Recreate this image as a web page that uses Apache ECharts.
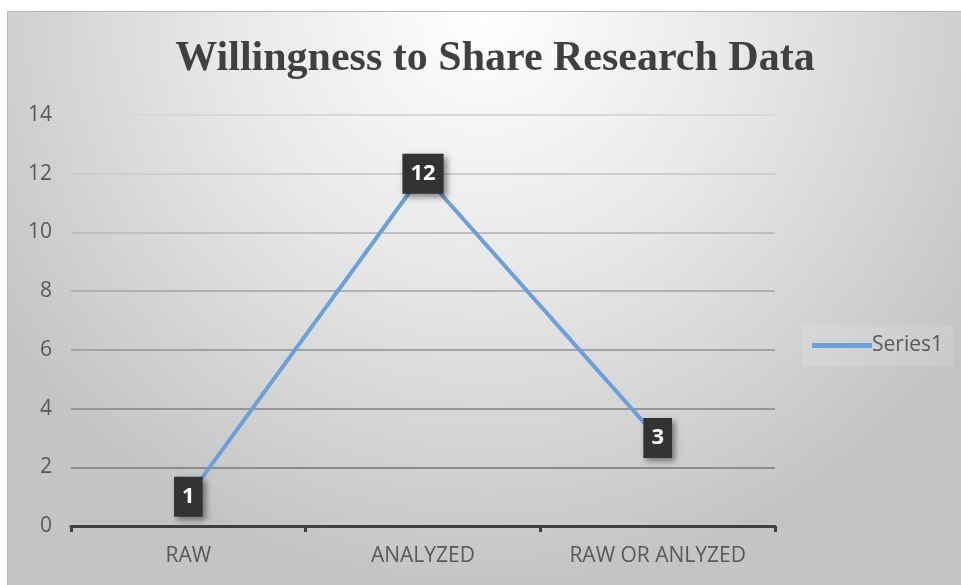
<!DOCTYPE html>
<html>
<head>
<meta charset="utf-8">
<script src="https://cdn.jsdelivr.net/npm/echarts@6/dist/echarts.min.js"></script>
<style>
html,body{margin:0;padding:0;background:#ffffff;}
#chart{width:961px;height:585px;}
</style>
</head>
<body>
<div id="chart"></div>
<script>
var titleText = 'Willingness to Share Research Data';
var categories = ['RAW', 'ANALYZED', 'RAW OR ANLYZED'];
var seriesName = 'Series1';
var seriesValues = [1, 12, 3];
var yTicks = {min: 0, max: 14, interval: 2};

var chart = echarts.init(document.getElementById('chart'), null, {renderer: 'canvas'});
chart.setOption({
  animation: false,
  backgroundColor: '#ffffff',
  graphic: [{
    type: 'rect',
    left: 7, top: 11,
    shape: {width: 954, height: 574},
    z: -10,
    style: {
      fill: {
        type: 'radial', x: 0.5, y: 0.0, r: 1.0,
        colorStops: [
          {offset: 0, color: '#ffffff'},
          {offset: 0.45, color: '#e8e8e8'},
          {offset: 1, color: '#c4c4c4'}
        ]
      },
      stroke: '#b8b8b8', lineWidth: 1
    }
  }],
  title: {
    text: titleText,
    left: 490, top: 33,
    textAlign: 'center',
    textStyle: {
      fontFamily: 'Liberation Serif',
      fontWeight: 'bold',
      fontSize: 42,
      color: '#404040'
    }
  },
  legend: {
    data: [seriesName],
    left: 802, top: 325,
    icon: 'rect',
    itemWidth: 60, itemHeight: 5,
    itemGap: 4,
    textStyle: {fontFamily: 'Open Sans', fontSize: 21, color: '#595959', padding: [0,0,0,-5]},
    backgroundColor: 'rgba(255,255,255,0.12)',
    padding: [10, 10, 10, 10]
  },
  grid: {left: 71, right: 186, top: 115, bottom: 59, containLabel: false},
  xAxis: {
    type: 'category',
    data: categories,
    boundaryGap: true,
    axisLine: {lineStyle: {color: '#404040', width: 3}},
    axisTick: {show: true, length: 6, lineStyle: {color: '#404040', width: 3}},
    axisLabel: {fontFamily: 'Open Sans', fontSize: 21, color: '#595959', margin: 20},
    splitLine: {show: false}
  },
  yAxis: {
    type: 'value',
    min: yTicks.min, max: yTicks.max, interval: yTicks.interval,
    axisLine: {show: false},
    axisTick: {show: false},
    axisLabel: {fontFamily: 'Open Sans', fontSize: 21, color: '#595959', margin: 19},
    splitLine: {lineStyle: {color: ['#8a8a8a', '#8c8c8c', '#959595', '#a2a2a2', '#b0b0b0', '#bfbfbf', '#cdcdcd', '#d8d8d8'], width: 2}}
  },
  series: [{
    name: seriesName,
    type: 'line',
    data: seriesValues,
    symbol: 'circle',
    symbolSize: 1,
    showSymbol: true,
    itemStyle: {color: '#6aa1d8'},
    lineStyle: {color: '#6aa1d8', width: 4},
    label: {
      show: true,
      position: 'inside',
      fontFamily: 'Open Sans',
      fontWeight: 'bold',
      fontSize: 22,
      color: '#ffffff',
      backgroundColor: '#333333',
      padding: [8, 8, 8, 8],
      lineHeight: 24,
      shadowColor: 'rgba(0,0,0,0.45)',
      shadowBlur: 6,
      shadowOffsetX: 3,
      shadowOffsetY: 3
    },
    z: 3
  }]
});
</script>
</body>
</html>
